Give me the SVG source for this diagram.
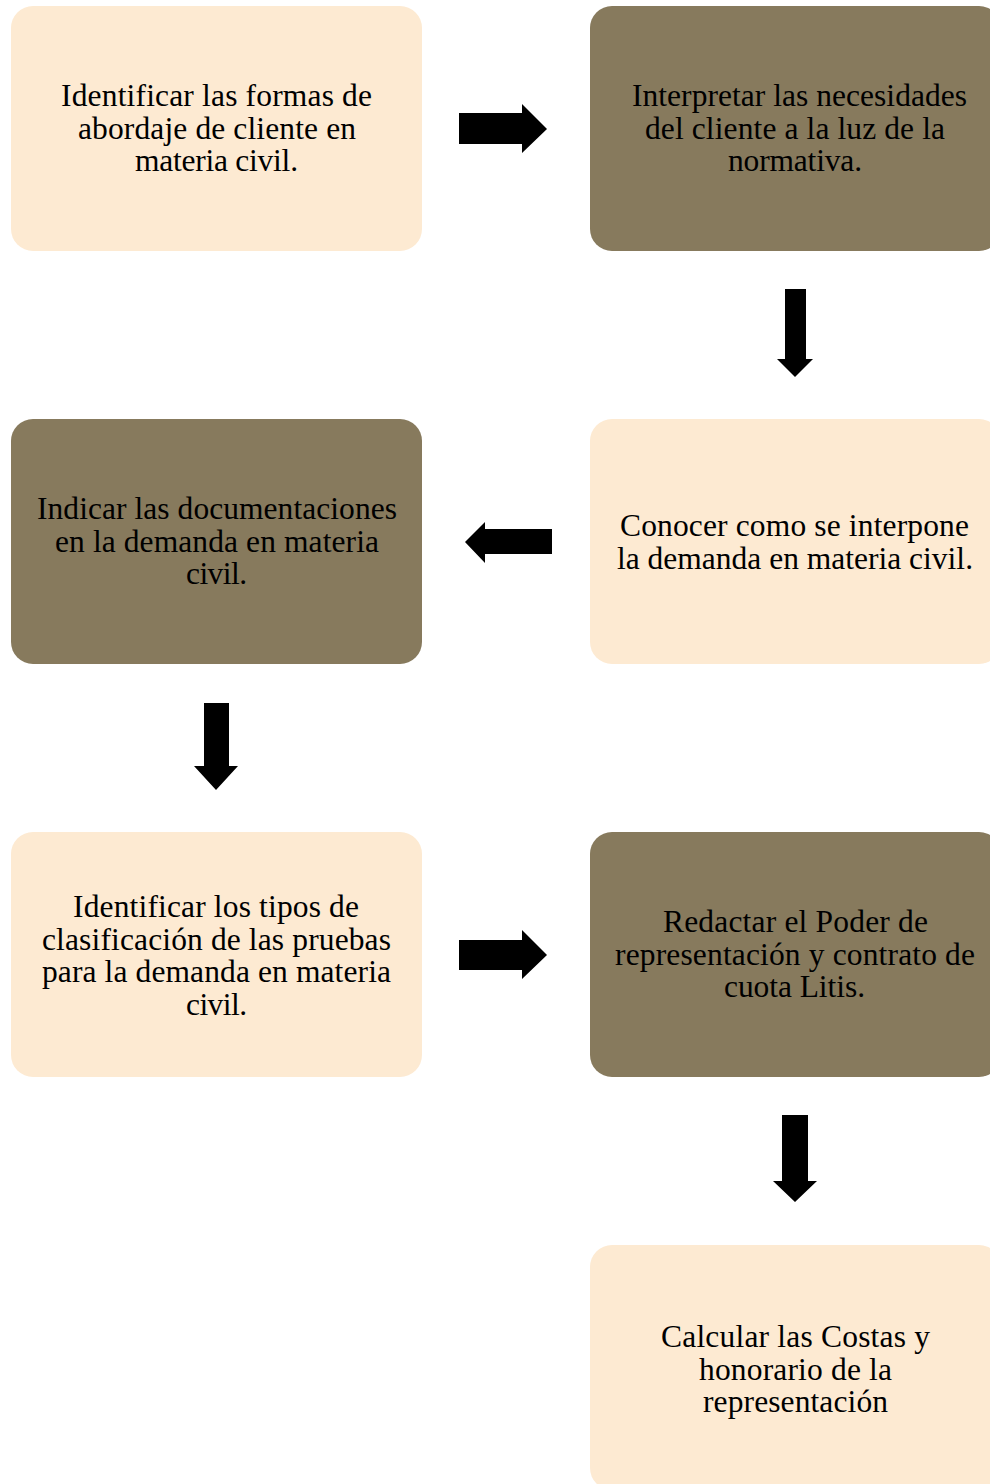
<svg xmlns="http://www.w3.org/2000/svg" width="990" height="1484" viewBox="0 0 990 1484">
<style>
.light{fill:#FDEAD2}
.dark{fill:#877A5D}
text{font-family:"Liberation Serif","Times New Roman",serif;font-size:31.5px;fill:#000;text-anchor:middle}
.arrow{fill:#000}
</style>
<rect width="990" height="1484" fill="#fff"/>
<g id="n1"><rect class="light" x="11" y="6" width="411" height="245" rx="22"/>
<text x="216.5" y="106" textLength="311">Identificar las formas de</text><text x="217" y="138.5" textLength="278">abordaje de cliente en</text><text x="216.5" y="171" textLength="163">materia civil.</text></g>
<g id="n2"><rect class="dark" x="590" y="6" width="411" height="245" rx="22"/>
<text x="799.5" y="106" textLength="335">Interpretar las necesidades</text><text x="795" y="138.5" textLength="300">del cliente a la luz de la</text><text x="795" y="171" textLength="134">normativa.</text></g>
<g id="n3"><rect class="light" x="590" y="419" width="411" height="245" rx="22"/>
<text x="794.5" y="536" textLength="349">Conocer como se interpone</text><text x="795" y="568.5" textLength="356">la demanda en materia civil.</text></g>
<g id="n4"><rect class="dark" x="11" y="419" width="411" height="245" rx="22"/>
<text x="217" y="519" textLength="360">Indicar las documentaciones</text><text x="217" y="551.5" textLength="324">en la demanda en materia</text><text x="216.5" y="584" textLength="61">civil.</text></g>
<g id="n5"><rect class="light" x="11" y="832" width="411" height="245" rx="22"/>
<text x="216" y="917" textLength="286">Identificar los tipos de</text><text x="216.5" y="949.5" textLength="349">clasificación de las pruebas</text><text x="216.5" y="982" textLength="349">para la demanda en materia</text><text x="216.5" y="1014.5" textLength="61">civil.</text></g>
<g id="n6"><rect class="dark" x="590" y="832" width="411" height="245" rx="22"/>
<text x="795.5" y="932" textLength="265">Redactar el Poder de</text><text x="795" y="964.5" textLength="360">representación y contrato de</text><text x="794.5" y="997" textLength="141">cuota Litis.</text></g>
<g id="n7"><rect class="light" x="590" y="1245" width="411" height="245" rx="22"/>
<text x="795.5" y="1347" textLength="269">Calcular las Costas y</text><text x="795.5" y="1379.5" textLength="193">honorario de la</text><text x="795.5" y="1412" textLength="185">representación</text></g>
<g id="connectors">
<polygon class="arrow" points="459,113 522,113 522,104 547,129 522,153 522,144 459,144"/>
<polygon class="arrow" points="785,289 806,289 806,359 813,359 795,377 777,359 785,359"/>
<polygon class="arrow" points="552,529 485,529 485,522 465,542 485,563 485,554 552,554"/>
<polygon class="arrow" points="204,703 229,703 229,766 238,766 216,790 194,766 204,766"/>
<polygon class="arrow" points="459,940 522,940 522,930 547,955 522,979 522,970 459,970"/>
<polygon class="arrow" points="782,1115 808,1115 808,1181 817,1181 795,1202 773,1181 782,1181"/>
</g>
</svg>
